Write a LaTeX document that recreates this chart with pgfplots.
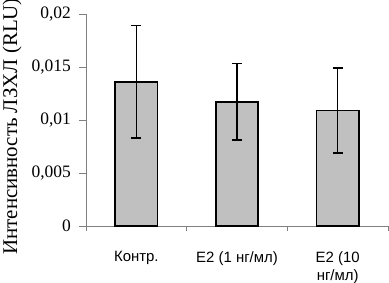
\documentclass[border=0pt]{standalone}
\usepackage{fontspec}
\setmainfont{Liberation Serif}
\newfontfamily\sansf{Liberation Sans}
\usepackage{pgfplots}
\pgfplotsset{compat=1.18}
\definecolor{barfill}{HTML}{C0C0C0}
\definecolor{axgray}{HTML}{808080}
\begin{document}
\begin{tikzpicture}
\begin{axis}[
  scale only axis,
  width=302bp, height=212bp,
  xmin=0.5, xmax=3.5,
  ymin=0, ymax=0.02,
  scaled y ticks=false,
  axis x line*=bottom, axis y line*=left,
  axis line style={axgray, line width=0.8bp, -},
  ytick={0,0.005,0.01,0.015,0.02},
  yticklabels={0,{0,005},{0,01},{0,015},{0,02}},
  yticklabel style={font=\fontsize{17.5}{20}\selectfont, inner sep=0pt, xshift=-8bp},
  y tick style={axgray, line width=0.8bp},
  ytick align=outside,
  major tick length=7bp,
  xtick={1,2,3},
  xticklabels={{Контр.},{E2 (1 нг/мл)},{E2 (10\\нг/мл)}},
  xticklabel style={font=\sansf\fontsize{15}{19}\selectfont, align=center, inner sep=0pt, yshift=-18bp},
  x tick style={draw=none},
  minor xtick={0.5,1.5,2.5,3.5},
  minor x tick style={draw=axgray, line width=0.8bp},
  xtick align=outside,
  minor tick length=5bp,
  ylabel={Интенсивность ЛЗХЛ (RLU)},
  ylabel style={font=\fontsize{21}{24}\selectfont, at={(axis description cs:-0.228,0.47)}, anchor=base, inner sep=0pt},
  clip=false,
]
\addplot[ybar, bar width=0.42, fill=barfill, draw=black, line width=1.4bp,
  error bars/.cd, y dir=both, y explicit,
  error bar style={black, line width=1.3bp},
  error mark options={black, line width=1.3bp, mark size=5bp, rotate=90}]
  coordinates {
  (1,0.0136) +- (0,0.0053)
  (2,0.0117) +- (0,0.0036)
  (3,0.0109) +- (0,0.0040)
};
\end{axis}
\pgfresetboundingbox
\path[use as bounding box] ([xshift=-86bp,yshift=-57bp]current axis.south west) rectangle ([xshift=1bp,yshift=14bp]current axis.north east);
\end{tikzpicture}
\end{document}
